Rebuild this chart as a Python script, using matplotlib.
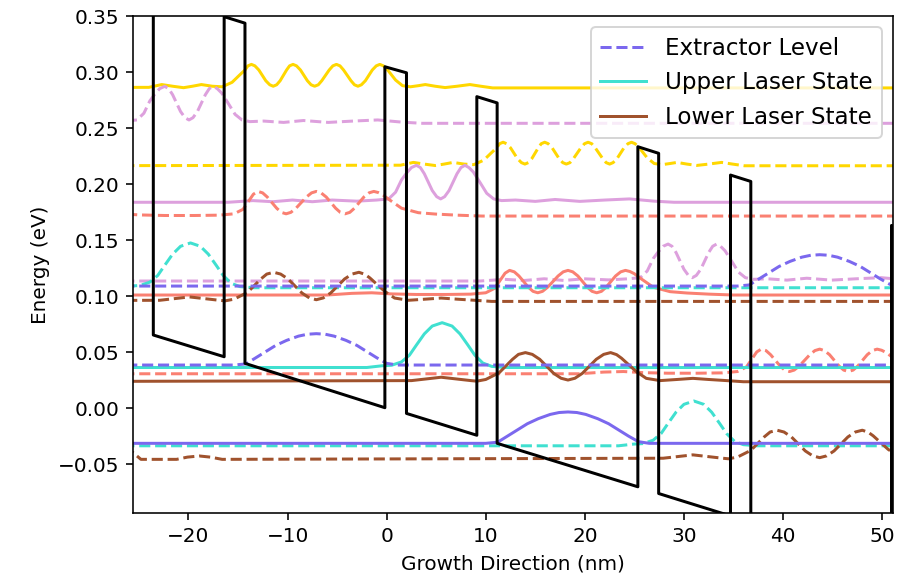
import numpy as np
import matplotlib
matplotlib.use("Agg")
import matplotlib.pyplot as plt
from matplotlib.lines import Line2D

# ---- conduction band profile (nm, eV) ----
band_x = [-25.6, -23.55, -23.55, -16.4, -16.4, -14.3, -14.3, -0.18, -0.18, 2.0, 2.0, 9.1, 9.1,
          11.15, 11.15, 25.35, 25.35, 27.45, 27.45, 34.7, 34.7, 36.75, 36.75, 50.95, 50.95, 51.1]
band_E = [0.375, 0.3693, 0.0652, 0.0458, 0.3494, 0.3436, 0.0399, 0.0003, 0.3047, 0.2993, -0.0048,
          -0.0243, 0.2780, 0.2724, -0.0315, -0.0703, 0.2333, 0.2274, -0.0763, -0.0963, 0.2080,
          0.2023, -0.1023, -0.1413, 0.1630, 0.1626]

# ---- probability-density profiles of each state (nm, eV above its level) ----
gold_x = [-60, -24.0, -22.7, -21.6, -20.5, -19.6, -18.7, -17.6, -16.6, -15.6, -14.9, -14.3, -14.0,
          -13.65, -13.3, -12.9, -12.2, -11.8, -11.45, -11.1, -10.75, -10.1, -9.8, -9.45, -9.1, -8.7,
          -8.0, -7.63, -7.27, -6.9, -6.55, -5.8, -5.43, -5.07, -4.71, -4.35, -3.6, -3.25, -2.9, -2.55,
          -2.15, -1.45, -1.05, -0.69, -0.33, 0.1, 0.9, 1.6, 2.4, 3.2, 3.9, 4.9, 5.9, 7.1, 8.4, 9.5,
          10.7, 80]
gold_d = [0, 0.0005, 0.003, 0.0015, 0.0002, 0.0015, 0.003, 0.0015, 0.001, 0.005, 0.011, 0.016, 0.0197,
          0.021, 0.0197, 0.016, 0.0064, 0.0028, 0.0015, 0.0028, 0.0064, 0.016, 0.0197, 0.021, 0.0197,
          0.016, 0.0064, 0.0028, 0.0015, 0.0028, 0.0064, 0.016, 0.0197, 0.021, 0.0197, 0.016, 0.0064,
          0.0028, 0.0015, 0.0028, 0.0064, 0.016, 0.0197, 0.021, 0.0197, 0.016, 0.007, 0.002, 0.001,
          0.002, 0.003, 0.0015, 0.0003, 0.0015, 0.003, 0.0015, 0.0, 0]

plum_x = [-60, -16.0, -13.5, -11.5, -9.5, -7.5, -5.5, -3.0, -1.0, 0.2, 0.9, 1.5, 2.0, 2.5, 3.0, 3.4,
          3.8, 4.6, 5.05, 5.45, 5.85, 6.3, 7.1, 7.5, 7.9, 8.3, 8.75, 9.4, 10.1, 10.8, 11.6, 13.0, 15.0,
          17.0, 19.5, 22.0, 24.5, 27.0, 29.0, 80]
plum_d = [0, 0, 0.0015, 0.0005, 0.002, 0.0005, 0.002, 0.001, 0.002, 0.003, 0.009, 0.020, 0.026, 0.031,
          0.033, 0.031, 0.0255, 0.0105, 0.005, 0.003, 0.005, 0.0105, 0.0255, 0.031, 0.033, 0.031,
          0.027, 0.018, 0.008, 0.003, 0.0015, 0.002, 0.0008, 0.0025, 0.0008, 0.002, 0.003, 0.001, 0, 0]

salmon_x = [-60, -6.0, -3.5, -1.5, 0.5, 3.0, 6.0, 8.5, 10.0, 10.9, 11.6, 11.95, 12.4, 12.88, 13.35,
            14.3, 14.77, 15.25, 15.73, 16.25, 17.3, 17.82, 18.3, 18.78, 19.3, 20.25, 20.72, 21.2,
            21.68, 22.15, 23.1, 23.62, 24.1, 24.55, 25.0, 25.6, 26.9, 28.6, 30.3, 32.5, 35.0, 80]
salmon_d = [0, 0, 0.0015, 0.002, 0.001, 0.0005, 0.0005, 0.0008, 0.002, 0.006, 0.015, 0.0195, 0.022,
            0.0207, 0.017, 0.007, 0.0033, 0.002, 0.0033, 0.007, 0.017, 0.0207, 0.022, 0.0207, 0.017,
            0.007, 0.0033, 0.002, 0.0033, 0.007, 0.017, 0.0207, 0.022, 0.021, 0.019, 0.015, 0.007,
            0.003, 0.0018, 0.0008, 0, 0]

turq_x = [-60, -2.0, -0.5, 0.5, 1.5, 2.3, 3.0, 3.8, 4.6, 5.6, 6.6, 7.4, 8.2, 8.9, 9.7, 10.6, 12.0, 80]
turq_d = [0, 0, 0.0015, 0.002, 0.005, 0.011, 0.020, 0.030, 0.037, 0.040, 0.037, 0.030, 0.020, 0.011,
          0.004, 0.001, 0, 0]

sienna_x = [-60, -51.5, -51.0, -50.2, -46.6, -45.5, -44.3, -43.2, -42.0, 2.5, 5.5, 8.5, 9.1, 10.0,
            11.35, 12.7, 13.3, 14.0, 14.7, 15.45, 16.85, 17.6, 18.3, 19.0, 19.75, 21.15, 21.9, 22.6,
            23.2, 23.7, 24.2, 25.2, 26.2, 27.6, 29.3, 30.9, 32.5, 34.3, 36.0, 80]
sienna_d = [0, 0.008, 0.006, 0, 0, 0.002, 0.003, 0.002, 0, 0.001, 0.004, 0.001, 0.0005, 0.002, 0.008,
            0.020, 0.0244, 0.026, 0.0244, 0.020, 0.0075, 0.0031, 0.0015, 0.0031, 0.0075, 0.020, 0.0244,
            0.026, 0.0242, 0.021, 0.017, 0.009, 0.003, 0.001, 0.002, 0.003, 0.002, 0.001, 0, 0]

slate_x = [-60, 10.0, 11.2, 12.2, 13.2, 14.2, 15.3, 16.5, 17.4, 18.3, 19.2, 20.1, 21.3, 22.4, 23.4,
           24.4, 25.4, 26.5, 80]
slate_d = [0, 0, 0.001, 0.0065, 0.012, 0.0175, 0.022, 0.0258, 0.0275, 0.028, 0.0275, 0.0258, 0.022,
           0.0175, 0.012, 0.0065, 0.0015, 0, 0]

profiles = {
    "gold": (gold_x, gold_d),
    "plum": (plum_x, plum_d),
    "salmon": (salmon_x, salmon_d),
    "turquoise": (turq_x, turq_d),
    "sienna": (sienna_x, sienna_d),
    "mediumslateblue": (slate_x, slate_d),
}

# ---- plotted copies of each state: colour, x offset (nm), level (eV), style ----
copy_state = ["gold", "gold",
              "plum", "plum", "plum",
              "salmon", "salmon", "salmon",
              "turquoise", "turquoise", "turquoise",
              "sienna", "sienna", "sienna",
              "mediumslateblue", "mediumslateblue", "mediumslateblue"]
copy_shift = [0.0, 25.4,
              -25.4, 0.0, 25.4,
              -25.4, 0.0, 25.4,
              -25.4, 0.0, 25.4,
              -25.4, 0.0, 25.4,
              -25.4, 0.0, 25.4]
copy_level = [0.2858, 0.2163,
              0.2542, 0.1837, 0.1134,
              0.1714, 0.1009, 0.0306,
              0.1074, 0.0362, -0.0337,
              0.0952, 0.0235, -0.0458,
              0.0384, -0.0315, 0.1089]
copy_style = ["-", "--",
              "--", "-", "--",
              "--", "-", "--",
              "--", "-", "--",
              "--", "-", "--",
              "--", "-", "--"]

legend_labels = ["Extractor Level", "Upper Laser State", "Lower Laser State"]
legend_colors = ["mediumslateblue", "turquoise", "sienna"]
legend_styles = ["--", "-", "-"]

fig = plt.figure(figsize=(898 / 144, 588 / 144), dpi=144)
ax = fig.add_axes([133 / 898, 1 - 513 / 588, (893 - 133) / 898, (513 - 16) / 588])

for st, dx, lev, ls in zip(copy_state, copy_shift, copy_level, copy_style):
    px, pd = profiles[st]
    ax.plot(np.array(px) + dx, lev + np.array(pd), color=st, ls=ls, lw=1.5)

ax.plot(band_x, band_E, color="black", lw=1.5, zorder=5)

ax.set_xlim(-25.6, 51.1)
ax.set_ylim(-0.0937, 0.35)
ax.set_xlabel("Growth Direction (nm)")
ax.set_ylabel("Energy (eV)")

handles = [Line2D([0], [0], color=c, ls=s, lw=1.5) for c, s in zip(legend_colors, legend_styles)]
ax.legend(handles, legend_labels, loc="upper right", fontsize=11.5)

fig.savefig("out.png", dpi=144)
